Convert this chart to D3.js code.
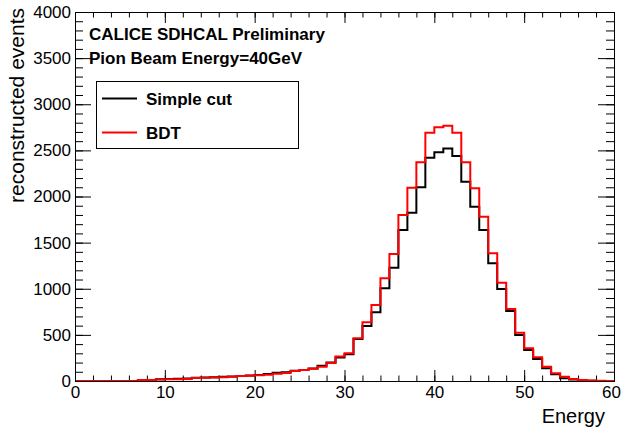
<!DOCTYPE html>
<html>
<head>
<meta charset="utf-8">
<script src="https://cdn.jsdelivr.net/npm/d3@7"></script>
<style>
  body { margin: 0; background: #fff; }
  svg { display: block; font-family: "Liberation Sans", Arial, Helvetica, sans-serif; }
  .tick text { font-size: 17px; fill: #000; }
  .tick line { stroke: #000; }
</style>
</head>
<body>
<div id="chart"></div>
<script>
// energy bins: 60 bins of width 1 GeV from 0 to 60
const binLow = 0;
const binHigh = 60;
const simpleCut = [0, 0, 0, 0, 0, 0, 0, 8, 12, 20,
  22, 25, 28, 35, 38, 42, 45, 50, 55, 60,
  65, 75, 90, 95, 110, 118, 135, 165, 200, 255,
  290, 455, 596, 744, 1005, 1229, 1637, 1825, 2100, 2420,
  2480, 2520, 2440, 2161, 1890, 1637, 1276, 997, 759, 499,
  336, 238, 137, 72, 29, 15, 8, 4, 1, 0];
const bdt = [0, 0, 0, 0, 0, 0, 0, 10, 12, 15,
  18, 20, 22, 32, 35, 38, 40, 45, 55, 58,
  62, 68, 78, 88, 108, 120, 132, 155, 195, 265,
  300, 463, 636, 824, 1113, 1377, 1800, 2096, 2371, 2692,
  2750, 2768, 2690, 2371, 2089, 1781, 1384, 1066, 780, 524,
  354, 257, 155, 83, 47, 22, 11, 5, 2, 0];
const xTicks = [0, 10, 20, 30, 40, 50, 60];
const yTicks = [0, 500, 1000, 1500, 2000, 2500, 3000, 3500, 4000];
const titleLines = ['CALICE SDHCAL Preliminary', 'Pion Beam Energy=40GeV'];
const legendItems = [
  { name: 'Simple cut', values: simpleCut, color: '#000' },
  { name: 'BDT', values: bdt, color: '#ff0000' }
];

const width = 621;
const height = 431;
const margin = { left: 75, top: 12, right: 7, bottom: 50 };
const innerW = width - margin.left - margin.right;
const innerH = height - margin.top - margin.bottom;

const svg = d3.select('#chart')
  .append('svg')
  .attr('width', width)
  .attr('height', height);

const g = svg.append('g')
  .attr('transform', `translate(${margin.left},${margin.top})`);

const x = d3.scaleLinear().domain([binLow, binHigh]).range([0, innerW]);
const y = d3.scaleLinear().domain([0, 4000]).range([innerH, 0]);

const xMinor = d3.range(0, 61, 2);
const yMinor = d3.range(0, 4001, 100);

// bottom axis
g.append('g')
  .attr('transform', `translate(0,${innerH})`)
  .call(d3.axisBottom(x).tickValues(xMinor).tickSize(-5.5).tickFormat(''))
  .call(a => a.select('.domain').remove());
g.append('g')
  .attr('transform', `translate(0,${innerH})`)
  .call(d3.axisBottom(x).tickValues(xTicks).tickSize(-11).tickPadding(5).tickFormat(d3.format('d')))
  .call(a => a.select('.domain').remove())
  .call(a => a.selectAll('.tick text').filter(d => d === binHigh).attr('dx', -3));

// top axis
g.append('g')
  .call(d3.axisTop(x).tickValues(xMinor).tickSize(-5.5).tickFormat(''))
  .call(a => a.select('.domain').remove());
g.append('g')
  .call(d3.axisTop(x).tickValues(xTicks).tickSize(-11).tickFormat(''))
  .call(a => a.select('.domain').remove());

// left axis
g.append('g')
  .call(d3.axisLeft(y).tickValues(yMinor).tickSize(-8).tickFormat(''))
  .call(a => a.select('.domain').remove());
g.append('g')
  .call(d3.axisLeft(y).tickValues(yTicks).tickSize(-16).tickPadding(4).tickFormat(d3.format('d')))
  .call(a => a.select('.domain').remove());

// right axis
g.append('g')
  .attr('transform', `translate(${innerW},0)`)
  .call(d3.axisRight(y).tickValues(yMinor).tickSize(-8).tickFormat(''))
  .call(a => a.select('.domain').remove());
g.append('g')
  .attr('transform', `translate(${innerW},0)`)
  .call(d3.axisRight(y).tickValues(yTicks).tickSize(-16).tickFormat(''))
  .call(a => a.select('.domain').remove());

// histograms
const stepLine = d3.line()
  .x(d => x(d[0]))
  .y(d => y(d[1]))
  .curve(d3.curveStepAfter);

legendItems.forEach(item => {
  const pts = item.values.map((v, i) => [binLow + i, v]);
  pts.push([binHigh, item.values[item.values.length - 1]]);
  g.append('path')
    .datum(pts)
    .attr('d', stepLine)
    .attr('fill', 'none')
    .attr('stroke', item.color)
    .attr('stroke-width', 2);
});

// frame
g.append('rect')
  .attr('x', 0.5)
  .attr('y', 0.5)
  .attr('width', innerW)
  .attr('height', innerH)
  .attr('fill', 'none')
  .attr('stroke', '#000')
  .attr('stroke-width', 1);

// labels
svg.append('text')
  .attr('x', 605)
  .attr('y', 423)
  .attr('text-anchor', 'end')
  .style('font-size', '20px')
  .text('Energy');

svg.append('text')
  .attr('transform', 'translate(24,8) rotate(-90)')
  .attr('text-anchor', 'end')
  .style('font-size', '21px')
  .text('reconstructed events');

titleLines.forEach((t, i) => {
  svg.append('text')
    .attr('x', 89)
    .attr('y', 39.5 + i * 24)
    .style('font-size', '17px')
    .style('font-weight', 'bold')
    .text(t);
});

// legend
const legend = svg.append('g');
legend.append('rect')
  .attr('x', 96.5)
  .attr('y', 81.5)
  .attr('width', 202)
  .attr('height', 67)
  .attr('fill', '#fff')
  .attr('stroke', '#000');

legendItems.forEach((item, i) => {
  const ly = 98.5 + i * 34;
  legend.append('line')
    .attr('x1', 102).attr('x2', 137)
    .attr('y1', ly).attr('y2', ly)
    .attr('stroke', item.color)
    .attr('stroke-width', 2);
  legend.append('text')
    .attr('x', 146)
    .attr('y', ly + 6)
    .style('font-size', '17px')
    .style('font-weight', 'bold')
    .text(item.name);
});
</script>
</body>
</html>
